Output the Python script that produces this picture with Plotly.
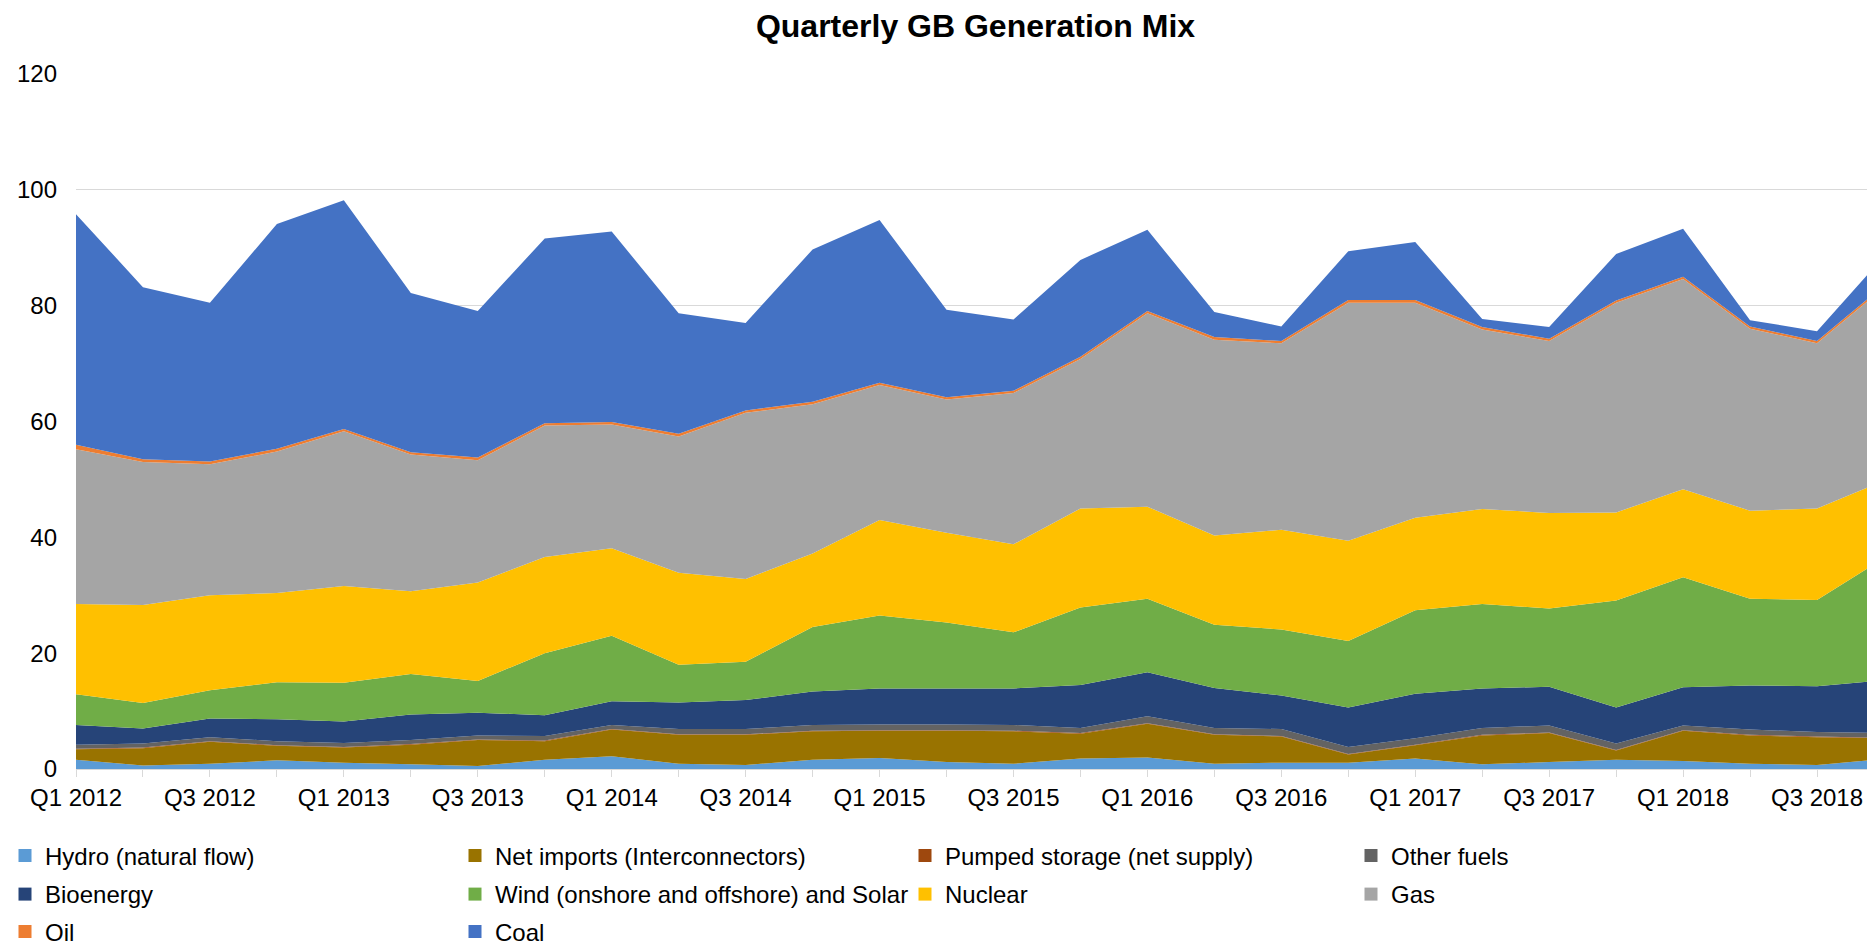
import plotly.graph_objects as go

quarters = ["Q1 2012", "Q2 2012", "Q3 2012", "Q4 2012",
            "Q1 2013", "Q2 2013", "Q3 2013", "Q4 2013",
            "Q1 2014", "Q2 2014", "Q3 2014", "Q4 2014",
            "Q1 2015", "Q2 2015", "Q3 2015", "Q4 2015",
            "Q1 2016", "Q2 2016", "Q3 2016", "Q4 2016",
            "Q1 2017", "Q2 2017", "Q3 2017", "Q4 2017",
            "Q1 2018", "Q2 2018", "Q3 2018", "Q4 2018"]

hydro = [1.6, 0.6, 0.9, 1.5, 1.1, 0.8, 0.5, 1.6, 2.2, 0.9, 0.7, 1.6, 1.9, 1.2,
         0.9, 1.8, 2.0, 0.9, 1.1, 1.1, 1.8, 0.8, 1.2, 1.6, 1.4, 0.9, 0.7, 1.7]
net_imports = [1.8, 3.0, 3.8, 2.5, 2.6, 3.4, 4.5, 3.2, 4.6, 5.0, 5.2, 4.9, 4.7, 5.4,
               5.6, 4.3, 5.8, 5.0, 4.5, 1.4, 2.3, 5.0, 5.0, 1.6, 5.2, 4.9, 4.8, 3.6]
pumped = [0.1, 0.1, 0.1, 0.1, 0.1, 0.1, 0.1, 0.1, 0.1, 0.1, 0.1, 0.1, 0.1, 0.1,
          0.1, 0.1, 0.1, 0.1, 0.1, 0.1, 0.1, 0.1, 0.1, 0.1, 0.1, 0.1, 0.1, 0.1]
other_fuels = [0.7, 0.7, 0.7, 0.7, 0.7, 0.7, 0.7, 0.8, 0.7, 0.9, 0.9, 1.0, 1.0, 1.0,
               1.0, 0.9, 1.2, 1.1, 1.2, 1.2, 1.1, 1.2, 1.2, 1.1, 0.8, 0.9, 0.8, 0.8]
bioenergy = [3.4, 2.6, 3.2, 3.8, 3.7, 4.4, 3.9, 3.6, 4.1, 4.6, 5.0, 5.8, 6.2, 6.2,
             6.3, 7.4, 7.6, 6.9, 5.8, 6.8, 7.7, 6.8, 6.7, 6.2, 6.6, 7.6, 7.9, 9.1]
wind_solar = [5.3, 4.4, 4.9, 6.4, 6.7, 7.0, 5.5, 10.7, 11.3, 6.5, 6.6, 11.1, 12.6, 11.4,
              9.7, 13.4, 12.7, 10.9, 11.4, 11.5, 14.4, 14.6, 13.5, 18.5, 19.0, 15.0, 14.9, 21.1]
nuclear = [15.6, 16.9, 16.4, 15.4, 16.7, 14.3, 17.0, 16.6, 15.1, 15.9, 14.3, 12.7, 16.5, 15.5,
           15.2, 17.1, 15.9, 15.4, 17.2, 17.3, 16.0, 16.4, 16.5, 15.2, 15.2, 15.2, 15.8, 13.4]
gas = [26.7, 24.7, 22.6, 24.4, 26.7, 23.6, 21.1, 22.7, 21.4, 23.5, 28.7, 25.8, 23.3, 23.0,
       26.1, 25.8, 33.4, 33.8, 32.2, 41.1, 37.1, 31.0, 29.7, 36.2, 36.3, 31.4, 28.5, 33.3]
oil = [0.8, 0.5, 0.5, 0.5, 0.4, 0.4, 0.5, 0.4, 0.4, 0.5, 0.4, 0.4, 0.4, 0.4,
       0.4, 0.4, 0.4, 0.5, 0.4, 0.5, 0.5, 0.4, 0.4, 0.4, 0.4, 0.4, 0.4, 0.4]
coal = [39.8, 29.7, 27.4, 38.8, 39.5, 27.5, 25.3, 31.9, 32.9, 20.8, 15.1, 26.3, 28.1, 15.1,
        12.3, 16.7, 14.0, 4.3, 2.5, 8.4, 10.0, 1.4, 2.0, 8.0, 8.3, 1.1, 1.7, 5.0]

series_names = ["Hydro (natural flow)", "Net imports (Interconnectors)",
                "Pumped storage (net supply)", "Other fuels", "Bioenergy",
                "Wind (onshore and offshore) and Solar", "Nuclear", "Gas", "Oil", "Coal"]
series_values = [hydro, net_imports, pumped, other_fuels, bioenergy,
                 wind_solar, nuclear, gas, oil, coal]
series_colors = ["#5B9BD5", "#997300", "#9E480E", "#636363", "#264478",
                 "#70AD47", "#FFC000", "#A5A5A5", "#ED7D31", "#4472C4"]

x_idx = list(range(len(quarters)))

FONT = "Arial, Liberation Sans, sans-serif"
FIG_W, FIG_H = 1867, 937          # page body has an 8px margin
M_L, M_T, M_R, M_B = 68, 66, 0, 176
PLOT_W = FIG_W - M_L - M_R

fig = go.Figure()
for name, vals, col in zip(series_names, series_values, series_colors):
    fig.add_trace(go.Scatter(
        x=x_idx, y=vals, name=name, stackgroup="one", mode="none",
        fillcolor=col, showlegend=False, hoverinfo="x+y+name",
    ))

# legend: 4 columns x 3 rows, each entry in its own legend box
col_text_px = [37, 487, 937, 1383]     # figure px where legend text starts
row_center_px = [848, 886.5, 924]      # figure px of row centres
legend_layouts = {}
for k, (name, col) in enumerate(zip(series_names, series_colors)):
    key = "legend" if k == 0 else f"legend{k + 1}"
    r, c = divmod(k, 4)
    fig.add_trace(go.Scatter(
        x=[None], y=[None], mode="markers", name=name,
        marker=dict(symbol="square", size=13, color=col),
        showlegend=True, legend=key, hoverinfo="skip",
    ))
    x_fig = col_text_px[c] - 40
    legend_layouts[key] = dict(
        orientation="h", xref="paper", yref="container",
        x=(x_fig - M_L) / PLOT_W, xanchor="left",
        y=1 - row_center_px[r] / FIG_H, yanchor="middle",
        font=dict(size=24, family=FONT, color="#000000"),
        itemwidth=30, bgcolor="rgba(0,0,0,0)",
    )

fig.update_layout(
    width=FIG_W, height=FIG_H,
    paper_bgcolor="white", plot_bgcolor="white",
    margin=dict(l=M_L, r=M_R, t=M_T, b=M_B, autoexpand=False),
    font=dict(family=FONT, color="#000000", size=24),
    title=dict(text="Quarterly GB Generation Mix", x=0.5, xref="paper",
               y=1 - 18 / FIG_H, yref="container", yanchor="middle", xanchor="center",
               font=dict(size=32, family=FONT, color="#000000", weight=700)),
    showlegend=True,
    **legend_layouts,
)

fig.update_xaxes(
    range=[0, 26.866],
    tickmode="array",
    tickvals=x_idx[::2], ticktext=quarters[::2],
    ticks="outside", ticklen=7, tickcolor="#d9d9d9", tickwidth=1,
    minor=dict(tickmode="linear", tick0=0, dtick=1, ticks="outside",
               ticklen=7, tickcolor="#d9d9d9", tickwidth=1, showgrid=False),
    showline=True, linecolor="#d9d9d9", linewidth=1,
    showgrid=False, zeroline=False,
    tickfont=dict(size=24, family=FONT, color="#000000"),
)
fig.update_yaxes(
    range=[0, 120], tickmode="linear", tick0=0, dtick=20,
    showgrid=True, gridcolor="#d9d9d9", gridwidth=1,
    zeroline=False, showline=False, ticks="",
    ticklabelstandoff=18,
    tickfont=dict(size=24, family=FONT, color="#000000"),
)

fig.write_html("out.html")
